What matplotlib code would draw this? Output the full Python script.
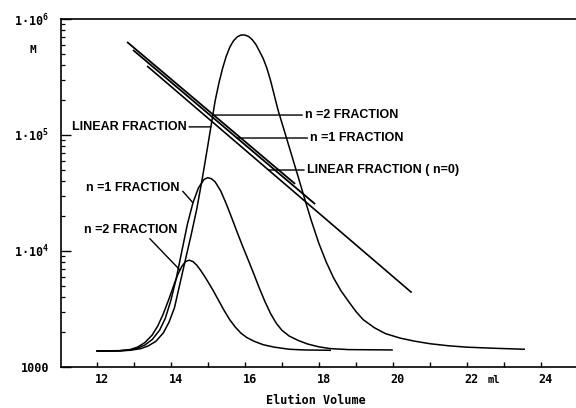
import numpy as np
import matplotlib
matplotlib.use("Agg")
import matplotlib.pyplot as plt
from matplotlib.transforms import ScaledTranslation
from matplotlib.ticker import LogLocator, NullFormatter

# GPC traces: elution volume (ml) and detector response (arbitrary units)
lin_v = [12.01, 12.5, 12.9, 13.2, 13.4, 13.6, 13.8, 13.95, 14.1, 14.25,
         14.4, 14.55, 14.7, 14.85, 15.0, 15.1, 15.2, 15.3, 15.4, 15.5,
         15.6, 15.7, 15.8, 15.9, 16.0, 16.1, 16.2, 16.3, 16.4, 16.5,
         16.6, 16.7, 16.8, 16.9, 17.0, 17.15, 17.3, 17.45, 17.6, 17.8,
         18.0, 18.2, 18.4, 18.6, 18.8, 19.0, 19.2, 19.5, 19.8, 20.2,
         20.6, 21.0, 21.5, 22.0, 22.7, 23.55]
lin_r = [4.6, 4.6, 4.8, 5.3, 6.1, 7.4, 9.8, 12.8, 17.0, 24.0,
         31.0, 37.9, 45.2, 54.0, 63.5, 70.0, 76.5, 81.5, 85.8, 89.3,
         92.0, 93.8, 94.9, 95.4, 95.4, 95.0, 94.1, 92.7, 90.7, 88.6,
         85.8, 82.2, 78.0, 73.8, 70.3, 65.0, 59.7, 54.4, 49.0, 42.0,
         35.6, 30.2, 25.6, 21.9, 18.9, 16.0, 13.6, 11.3, 9.6, 8.3,
         7.4, 6.7, 6.1, 5.7, 5.4, 5.1]

n1_v = [12.01, 12.6, 12.9, 13.1, 13.3, 13.5, 13.7, 13.85, 14.0, 14.15,
        14.3, 14.45, 14.6, 14.75, 14.9, 15.0, 15.1, 15.2, 15.35, 15.5,
        15.65, 15.8, 15.95, 16.1, 16.25, 16.4, 16.55, 16.7, 16.85, 17.0,
        17.2, 17.45, 17.7, 18.0, 18.3, 18.8, 19.98]
n1_r = [4.6, 4.6, 4.9, 5.4, 6.3, 7.9, 10.6, 13.9, 19.0, 25.5,
        33.3, 41.0, 47.2, 51.5, 53.9, 54.4, 54.1, 53.2, 50.6, 46.9,
        42.8, 38.6, 34.5, 30.6, 26.6, 22.5, 18.7, 15.3, 12.6, 10.6,
        8.9, 7.6, 6.6, 5.8, 5.3, 5.0, 4.9]

n2_v = [12.01, 12.6, 12.9, 13.1, 13.3, 13.5, 13.65, 13.8, 13.95, 14.1,
        14.2, 14.3, 14.4, 14.5, 14.6, 14.7, 14.8, 14.9, 15.0, 15.15,
        15.3, 15.45, 15.6, 15.75, 15.9, 16.05, 16.25, 16.5, 16.8, 17.2,
        17.6, 18.31]
n2_r = [4.6, 4.7, 5.0, 5.7, 7.0, 9.2, 11.8, 15.3, 19.5, 24.0,
        26.8, 28.9, 30.3, 30.7, 30.3, 29.3, 27.9, 26.3, 24.6, 21.9,
        19.0, 16.1, 13.5, 11.4, 9.7, 8.5, 7.4, 6.4, 5.7, 5.1,
        4.9, 4.8]

# Calibration lines: molecular weight M against elution volume
cal_n2_v = [12.82, 17.36]
cal_n2_M = [634000, 37900]
cal_n1_v = [12.98, 17.90]
cal_n1_M = [541000, 25400]
cal_n0_v = [13.36, 20.51]
cal_n0_M = [393600, 4380]

x_major = [12, 14, 16, 18, 20, 22, 24]
x_minor = [13, 15, 17, 19, 21, 23]
y_ticks = [1e3, 1e4, 1e5, 1e6]
y_tick_labels = ['1000', '1·10$^{4}$', '1·10$^{5}$', '1·10$^{6}$']

plt.rcParams['mathtext.fontset'] = 'custom'
plt.rcParams['mathtext.rm'] = 'DejaVu Sans Mono:bold'

mono = dict(family='DejaVu Sans Mono', weight='bold')
sans = dict(family='Liberation Sans', weight='bold')

W, H = 576, 408
fig = plt.figure(figsize=(W / 100, H / 100), dpi=100)
ax = fig.add_axes([61 / W, 41 / H, 1 - 61 / W, 348 / H])

ax.set_yscale('log')
ax.set_xlim(11.035, 24.95)
ax.set_ylim(1e3, 1e6)

for s in ['left', 'top', 'bottom']:
    ax.spines[s].set_linewidth(1.2)
ax.spines['right'].set_visible(False)

ax.set_xticks(x_major)
ax.set_xticks(x_minor, minor=True)
ax.set_xticklabels([str(t) for t in x_major], fontsize=8.5, **mono)
ax.set_yticks(y_ticks)
ax.set_yticklabels(y_tick_labels, fontsize=8.5, **mono)
ax.yaxis.set_minor_locator(LogLocator(base=10, subs=np.arange(2, 10)))
ax.yaxis.set_minor_formatter(NullFormatter())
ax.tick_params(axis='x', which='both', direction='in', length=3.5, width=1.0,
               pad=4.5, top=False)
ax.tick_params(axis='y', which='major', direction='in', length=7, width=1.0, pad=8.5)
ax.tick_params(axis='y', which='minor', direction='in', length=3, width=0.9)
for lbl in ax.get_xticklabels():
    lbl.set_transform(lbl.get_transform() + ScaledTranslation(0.05, 0, fig.dpi_scale_trans))

# calibration lines
for v, m, lw in [(cal_n2_v, cal_n2_M, 1.3), (cal_n1_v, cal_n1_M, 1.3), (cal_n0_v, cal_n0_M, 1.2)]:
    ax.plot(v, m, color='black', lw=lw, solid_capstyle='butt')

# GPC traces on a linear response scale
ax2 = ax.twinx()
ax2.set_ylim(0, 100)
ax2.set_yticks([])
for s in ax2.spines.values():
    s.set_visible(False)
for v, r in [(lin_v, lin_r), (n1_v, n1_r), (n2_v, n2_r)]:
    ax2.plot(v, r, color='black', lw=1.1, solid_joinstyle='round')


def point_on_cal(v, m, level):
    lv = np.log10(m)
    return float(np.interp(np.log10(level), lv[::-1], np.asarray(v)[::-1]))


arrow = dict(arrowstyle='-', color='black', lw=1.0, shrinkA=0, shrinkB=0)

# labels for calibration lines
for text, v, m, level, vt in [
        ('n =2 FRACTION', cal_n2_v, cal_n2_M, 148600, 17.63),
        ('n =1 FRACTION', cal_n1_v, cal_n1_M, 94200, 17.77),
        ('LINEAR FRACTION ( n=0)', cal_n0_v, cal_n0_M, 49900, 17.68)]:
    vx = point_on_cal(v, m, level)
    ax.annotate(text, xy=(vx, level), xytext=(vt, level), textcoords='data',
                ha='left', va='center', fontsize=9, **sans,
                arrowprops=dict(arrow, relpos=(0, 0.5)))

# labels for GPC traces
pk = int(np.argmax(lin_r))
v_lin = float(np.interp(69.0, lin_r[:pk + 1], lin_v[:pk + 1]))
ax2.annotate('LINEAR FRACTION', xy=(v_lin, 69.0), xytext=(14.42, 69.0),
             ha='right', va='center', fontsize=9, **sans,
             arrowprops=dict(arrow, relpos=(1, 0.5)))
ax2.annotate('n =1 FRACTION', xy=(14.60, float(np.interp(14.60, n1_v, n1_r))),
             xytext=(14.25, 51.4), ha='right', va='center', fontsize=9, **sans,
             arrowprops=dict(arrow, relpos=(1, 0.5)))
ax2.annotate('n =2 FRACTION', xy=(14.25, float(np.interp(14.25, n2_v, n2_r))),
             xytext=(14.17, 39.4), ha='right', va='center', fontsize=9, **sans,
             arrowprops=dict(arrow, relpos=(0.68, 0.0)))

fig.text(33 / W, 1 - 50 / H, 'M', ha='center', va='center', fontsize=8, **mono)
fig.text(494 / W, 1 - 380 / H, 'ml', ha='center', va='center', fontsize=7.5, **mono)
fig.text(316 / W, 1 - 400 / H, 'Elution Volume', ha='center', va='center',
         fontsize=8.5, **mono)

fig.savefig('out.png', dpi=100)
